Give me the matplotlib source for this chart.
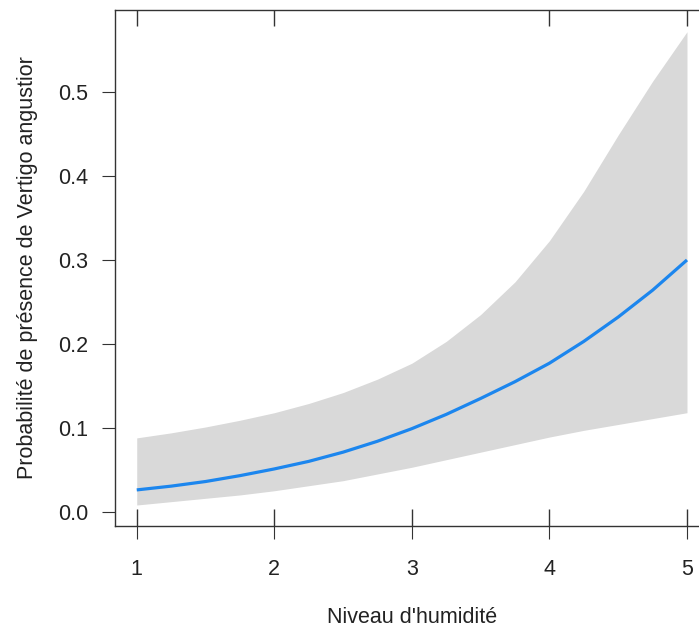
import matplotlib
matplotlib.use("Agg")
from matplotlib import pyplot as plt
from matplotlib import transforms

plt.rcParams['font.family'] = ['Liberation Sans', 'DejaVu Sans']

# niveau d'humidité et probabilité prédite (+ IC)
humidite = [1.0, 1.25, 1.5, 1.75, 2.0, 2.25, 2.5, 2.75, 3.0,
            3.25, 3.5, 3.75, 4.0, 4.25, 4.5, 4.75, 5.0]
proba = [0.026, 0.0305, 0.036, 0.043, 0.051, 0.060, 0.071, 0.084, 0.099,
         0.116, 0.135, 0.155, 0.177, 0.203, 0.232, 0.264, 0.300]
ic_haut = [0.088, 0.094, 0.101, 0.109, 0.118, 0.129, 0.142, 0.158, 0.177,
           0.203, 0.235, 0.274, 0.323, 0.382, 0.449, 0.513, 0.572]
ic_bas = [0.008, 0.012, 0.016, 0.020, 0.025, 0.031, 0.037, 0.045, 0.053,
          0.062, 0.071, 0.080, 0.089, 0.097, 0.104, 0.111, 0.118]

# rug : absences (bas) et présences (haut)
rug_absent = [1, 2, 3, 4, 5]
rug_present = [1, 2, 4, 5]

x_ticks = [1, 2, 3, 4, 5]
y_ticks = [0.0, 0.1, 0.2, 0.3, 0.4, 0.5]

fig = plt.figure(figsize=(6.99, 6.32), dpi=100)
ax = fig.add_axes([115/699, 106/632, 594/699, 516.5/632])

ax.fill_between(humidite, ic_bas, ic_haut, color="#d9d9d9", linewidth=0)
ax.plot(humidite, proba, color="#1c86ee", linewidth=2.3, solid_capstyle="butt")

trans = transforms.blended_transform_factory(ax.transData, ax.transAxes)
ax.vlines(rug_absent, 0, 0.033, transform=trans, color="#333333", linewidth=1)
ax.vlines(rug_present, 1 - 0.031, 1, transform=trans, color="#333333", linewidth=1)

ax.set_xlim(0.842, 5.16)
ax.set_ylim(-0.017, 0.5985)
ax.set_xticks(x_ticks)
ax.set_yticks(y_ticks)
ax.set_xticklabels([str(v) for v in x_ticks])
ax.set_yticklabels(["%.1f" % v for v in y_ticks])

for s in ax.spines.values():
    s.set_color("#333333")
    s.set_linewidth(1)

ax.tick_params(axis="both", direction="out", length=9.5, width=0.8,
               color="#333333", labelsize=15.5, labelcolor="#222222")
ax.tick_params(axis="x", pad=14)
ax.tick_params(axis="y", pad=10)

ax.set_xlabel("Niveau d'humidité", fontsize=15.5, color="#222222", labelpad=20)
ax.set_ylabel("Probabilité de présence de Vertigo angustior", fontsize=15.5,
              color="#222222", labelpad=14)

plt.savefig("out.png", dpi=100)
